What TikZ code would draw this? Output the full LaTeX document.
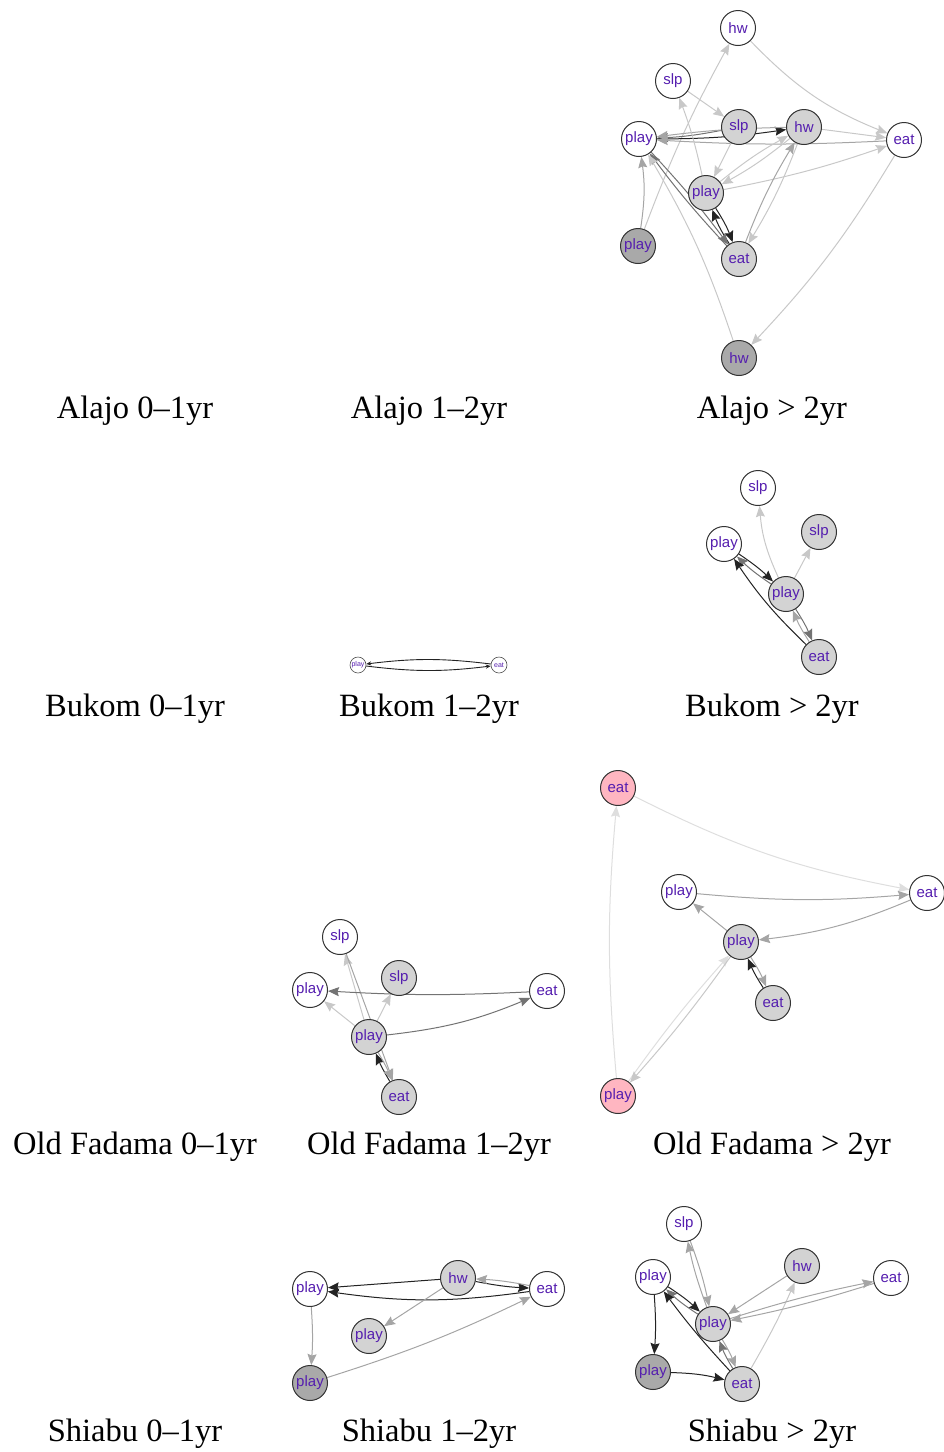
\documentclass[tikz,border=0pt]{standalone}
\usepackage{fontspec}
\usetikzlibrary{arrows.meta}
\newfontfamily\ndfamily{Liberation Sans}
\newfontfamily\ttlfamily[Ligatures=TeX]{Liberation Serif}
\definecolor{labc}{RGB}{85,30,175}
\definecolor{ngray}{RGB}{211,211,211}
\definecolor{ndark}{RGB}{169,169,169}
\definecolor{npink}{RGB}{255,182,193}
\definecolor{ea}{RGB}{222,222,222}
\definecolor{eb}{RGB}{200,200,200}
\definecolor{ec}{RGB}{165,165,165}
\definecolor{ed}{RGB}{115,115,115}
\definecolor{ee}{RGB}{35,35,35}
\pgfdeclarelayer{edges}
\pgfsetlayers{edges,main}
\tikzset{
  nd/.style={circle, draw=black!80, line width=1pt, minimum size=35pt, inner sep=0pt,
    font=\ndfamily\fontsize{15}{17}\selectfont, text=labc},
  wn/.style={nd, fill=white},
  gn/.style={nd, fill=ngray},
  dn/.style={nd, fill=ndark},
  pn/.style={nd, fill=npink},
  sn/.style={circle, draw=black!70, line width=0.6pt, minimum size=16pt, inner sep=0pt,
    fill=white, font=\ndfamily\fontsize{7}{8}\selectfont, text=labc},
  ed/.style={line width=1pt, -{Stealth[length=11pt,width=9pt,inset=1.5pt]}},
  ka/.style={ed, draw=ea},
  kb/.style={ed, draw=eb},
  kc/.style={ed, draw=ec},
  kd/.style={ed, draw=ed},
  ke/.style={ed, draw=ee},
  ttl/.style={font=\ttlfamily\fontsize{32.5}{36}\selectfont, text=black, inner sep=0pt}
}
\begin{document}
\begin{tikzpicture}[x=1pt,y=-1pt]
\useasboundingbox (0,0) rectangle (943,1452);
% ---------- titles ----------
\node[ttl] (t11) at (135,411) {Alajo 0--1yr};
\node[ttl] (t12) at (429,411) {Alajo 1--2yr};
\node[ttl] (t13) at (772,411) {Alajo > 2yr};
\node[ttl] (t21) at (135,709) {Bukom 0--1yr};
\node[ttl] (t22) at (429,709) {Bukom 1--2yr};
\node[ttl] (t23) at (772,709) {Bukom > 2yr};
\node[ttl] (t31) at (135,1147) {Old Fadama 0--1yr};
\node[ttl] (t32) at (429,1147) {Old Fadama 1--2yr};
\node[ttl] (t33) at (772,1147) {Old Fadama > 2yr};
\node[ttl] (t41) at (135,1434) {Shiabu 0--1yr};
\node[ttl] (t42) at (429,1434) {Shiabu 1--2yr};
\node[ttl] (t43) at (772,1434) {Shiabu > 2yr};
% ---------- Alajo > 2yr ----------
\node[wn] (AhwW) at (738,28) {hw};
\node[wn] (AslpW) at (673,81) {slp};
\node[gn] (AslpG) at (739,127) {slp};
\node[gn] (AhwG) at (804,127) {hw};
\node[wn] (AplayW) at (639,139) {play};
\node[wn] (AeatW) at (904,140) {eat};
\node[gn] (AplayG) at (706,193) {play};
\node[dn] (AplayD) at (638,246) {play};
\node[gn] (AeatG) at (739,259) {eat};
\node[dn] (AhwD) at (739,358) {hw};
\begin{pgfonlayer}{edges}
\draw[kb] (AplayD) to[bend left=4] (AhwW);
\draw[kb] (AhwW) to[bend right=12] (AeatW);
\draw[kb] (AslpW) -- (AslpG);
\draw[kd] (AslpG) to[bend left=4] (AplayW);
\draw[ke] (AplayW) to[bend right=4] (AhwG);
\draw[kc] (AhwG) to[bend right=3] (AplayW);
\draw[kc] (AeatW) to[bend left=3] (AplayW);
\draw[kb] (AhwG) -- (AeatW);
\draw[kb] (AplayG) to[bend right=4] (AeatW);
\draw[kb] (AslpG) -- (AplayG);
\draw[kb] (AplayG) to[bend right=4] (AslpW);
\draw[kb] (AplayG) to[bend left=5] (AhwG);
\draw[kb] (AhwG) to[bend left=5] (AplayG);
\draw[kb] (AhwG) to[bend left=5] (AeatG);
\draw[kc] (AeatG) to[bend left=5] (AhwG);
\draw[ke] (AplayG) to[bend left=6] (AeatG);
\draw[ke] (AeatG) to[bend left=6] (AplayG);
\draw[kd] (AplayW) to[bend left=3] (AeatG);
\draw[kd] (AeatG) to[bend left=3] (AplayW);
\draw[kc] (AplayD) to[bend right=8] (AplayW);
\draw[kb] (AhwD) to[bend right=6] (AplayW);
\draw[kb] (AeatW) to[bend left=6] (AhwD);
\end{pgfonlayer}
% ---------- Bukom 1-2yr ----------
\node[sn] (BplayS) at (358,665) {play};
\node[sn] (BeatS) at (499,665) {eat};
\begin{pgfonlayer}{edges}
\draw[ke, line width=0.9pt, -{Stealth[length=5pt,width=4pt]}] (BplayS) to[bend right=7] (BeatS);
\draw[ke, line width=0.9pt, -{Stealth[length=5pt,width=4pt]}] (BeatS) to[bend right=7] (BplayS);
\end{pgfonlayer}
% ---------- Bukom > 2yr ----------
\node[wn] (BslpW) at (758,488) {slp};
\node[wn] (BplayW) at (724,544) {play};
\node[gn] (BslpG) at (819,532) {slp};
\node[gn] (BplayG) at (786,594) {play};
\node[gn] (BeatG) at (819,657) {eat};
\begin{pgfonlayer}{edges}
\draw[kb] (BplayG) to[bend left=10] (BslpW);
\draw[kb] (BplayG) -- (BslpG);
\draw[ke] (BplayW) to[bend left=5] (BplayG);
\draw[kd] (BplayG) to[bend left=5] (BplayW);
\draw[ke] (BeatG) to[bend left=6] (BplayW);
\draw[kd] (BplayG) to[bend left=5] (BeatG);
\draw[kc] (BeatG) to[bend left=5] (BplayG);
\end{pgfonlayer}
% ---------- Old Fadama 1-2yr ----------
\node[wn] (OslpW) at (340,937) {slp};
\node[wn] (OplayW) at (310,990) {play};
\node[gn] (OslpG) at (399,978) {slp};
\node[wn] (OeatW) at (547,991) {eat};
\node[gn] (OplayG) at (369,1037) {play};
\node[gn] (OeatG) at (399,1097) {eat};
\begin{pgfonlayer}{edges}
\draw[kb] (OplayG) -- (OslpW);
\draw[kc] (OslpW) -- (OeatG);
\draw[kb] (OplayG) -- (OslpG);
\draw[kb] (OplayG) -- (OplayW);
\draw[kd] (OeatW) to[bend left=3] (OplayW);
\draw[kd] (OplayG) to[bend right=8] (OeatW);
\draw[ke] (OeatG) to[bend left=4] (OplayG);
\draw[kc] (OplayG) to[bend left=4] (OeatG);
\end{pgfonlayer}
% ---------- Old Fadama > 2yr ----------
\node[pn] (OeatP) at (618,788) {eat};
\node[wn] (OplayW2) at (679,892) {play};
\node[wn] (OeatW2) at (927,893) {eat};
\node[gn] (OplayG2) at (741,942) {play};
\node[gn] (OeatG2) at (773,1003) {eat};
\node[pn] (OplayP) at (618,1096) {play};
\begin{pgfonlayer}{edges}
\draw[ka] (OeatP) to[bend right=8] (OeatW2);
\draw[kc] (OplayW2) to[bend right=5] (OeatW2);
\draw[kc] (OeatW2) to[bend left=8] (OplayG2);
\draw[kc] (OplayG2) -- (OplayW2);
\draw[ke] (OeatG2) to[bend left=5] (OplayG2);
\draw[kc] (OplayG2) to[bend left=5] (OeatG2);
\draw[ka] (OplayP) to[bend left=5] (OeatP);
\draw[ka] (OplayP) to[bend left=3] (OplayG2);
\draw[kb] (OplayG2) to[bend left=3] (OplayP);
\end{pgfonlayer}
% ---------- Shiabu 1-2yr ----------
\node[wn] (SplayW) at (310,1289) {play};
\node[gn] (ShwG) at (458,1278) {hw};
\node[wn] (SeatW) at (547,1289) {eat};
\node[gn] (SplayG) at (369,1336) {play};
\node[dn] (SplayD) at (310,1383) {play};
\begin{pgfonlayer}{edges}
\draw[ke] (ShwG) -- (SplayW);
\draw[ke] (SeatW) to[bend right=-8] (SplayW);
\draw[ke] (ShwG) to[bend left=-4] (SeatW);
\draw[kc] (SeatW) to[bend left=-4] (ShwG);
\draw[kc] (ShwG) -- (SplayG);
\draw[kc] (SplayW) to[bend left=4] (SplayD);
\draw[kc] (SplayD) to[bend right=4] (SeatW);
\end{pgfonlayer}
% ---------- Shiabu > 2yr ----------
\node[wn] (TslpW) at (684,1224) {slp};
\node[wn] (TplayW) at (653,1277) {play};
\node[gn] (ThwG) at (802,1266) {hw};
\node[wn] (TeatW) at (891,1278) {eat};
\node[gn] (TplayG) at (713,1324) {play};
\node[dn] (TplayD) at (653,1372) {play};
\node[gn] (TeatG) at (742,1384) {eat};
\begin{pgfonlayer}{edges}
\draw[kc] (TslpW) to[bend left=4] (TplayG);
\draw[kc] (TplayG) to[bend left=4] (TslpW);
\draw[ke] (TplayW) to[bend left=5] (TplayG);
\draw[kd] (TplayG) to[bend left=5] (TplayW);
\draw[ke] (TeatG) to[bend left=3] (TplayW);
\draw[ke] (TplayW) to[bend left=4] (TplayD);
\draw[ke] (TplayD) to[bend right=-6] (TeatG);
\draw[kc] (TplayG) to[bend left=5] (TeatG);
\draw[kd] (TeatG) to[bend left=5] (TplayG);
\draw[kb] (TeatG) to[bend right=3] (ThwG);
\draw[kc] (ThwG) -- (TplayG);
\draw[kc] (TplayG) to[bend left=3] (TeatW);
\draw[kc] (TeatW) to[bend left=3] (TplayG);
\end{pgfonlayer}
\end{tikzpicture}
\end{document}
